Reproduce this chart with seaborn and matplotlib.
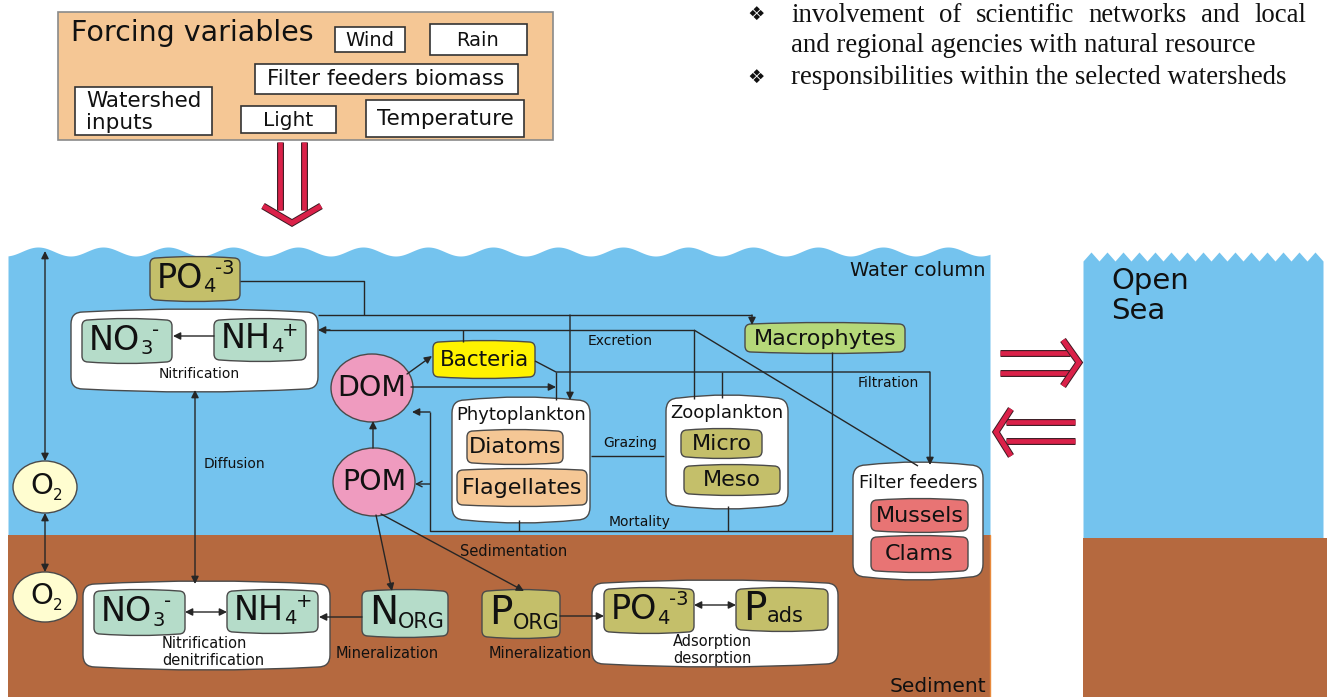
import numpy as np
import matplotlib
matplotlib.use("Agg")
import matplotlib.pyplot as plt
import matplotlib.patheffects as pe
from matplotlib.patches import Ellipse, Rectangle, PathPatch
from matplotlib.path import Path
import seaborn as sns

sns.set_style("white")
plt.rcParams["font.family"] = ["DejaVu Sans"]
plt.rcParams["text.color"] = "#111111"

# ---------------- text content ----------------
bullet_lines = ["involvement of scientific networks and local",
                "and regional agencies with natural resource",
                "responsibilities within the selected watersheds"]
forcing_title = "Forcing variables"
forcing_vars = ["Wind", "Rain", "Filter feeders biomass", "Watershed\ninputs", "Light", "Temperature"]
zone_labels = ["Water column", "Sediment", "Open\nSea"]
organic_pools = ["DOM", "POM"]
water_nodes = ["Bacteria", "Macrophytes"]
group_titles = ["Phytoplankton", "Zooplankton", "Filter feeders"]
group_members = [["Diatoms", "Flagellates"], ["Micro", "Meso"], ["Mussels", "Clams"]]
process_labels = ["Excretion", "Filtration", "Grazing", "Mortality", "Sedimentation", "Diffusion", "Nitrification"]
sediment_labels = ["Nitrification\ndenitrification", "Mineralization", "Mineralization", "Adsorption\ndesorption"]
# chemical species: (symbol, subscript, superscript)
nutrients_water = [("PO", "4", "-3"), ("NO", "3", "-"), ("NH", "4", "+")]
nutrients_sed = [("NO", "3", "-"), ("NH", "4", "+"), ("N", "ORG", ""), ("P", "ORG", ""), ("PO", "4", "-3"), ("P", "ads", "")]

# ---------------- layout (pixel coords, y down) ----------------
forcing_box_pos = [(335, 27, 405, 52), (430, 24, 527, 55), (255, 64, 518, 94),
                   (75, 87, 212, 135), (241, 106, 336, 133), (366, 100, 524, 137)]
forcing_text_pos = [(370, 41, "center"), (478, 40, "center"), (386, 79, "center"),
                    (86, 112, "left"), (288, 120, "center"), (445, 119, "center")]
forcing_text_size = [14, 14, 15.5, 15.5, 14.5, 15.5]
water_nut_box = [(150, 258, 240, 300), (82, 320, 172, 362), (214, 320, 306, 360)]
sed_nut_box = [(94, 591, 185, 634), (227, 591, 318, 632), (362, 591, 448, 636),
               (482, 591, 560, 637), (604, 589, 694, 632), (736, 589, 828, 630)]
group_box = [(452, 400, 590, 520), (666, 398, 788, 506), (853, 465, 983, 577)]
member_box = [[(467, 431, 563, 463), (457, 470, 587, 505)],
              [(681, 430, 762, 457), (684, 466, 780, 494)],
              [(871, 500, 968, 531), (871, 537, 968, 571)]]
title_y = [415, 413, 483]
process_pos = [(620, 341), (888, 383), (630, 443), (640, 522), (514, 552), (234, 464), (199, 374)]
sed_label_pos = [(162, 652, "left"), (387, 653, "center"), (540, 653, "center"), (712, 650, "center")]

blue, brown = "#74C3EE", "#B5693F"
peach, olive, mint = "#F5C795", "#C4BF6A", "#B5DCC9"
red = "#DA2149"
line_c = "#262626"
edge_c = "#4a4a4a"

fig = plt.figure(figsize=(13.3, 6.97), dpi=100)
ax = fig.add_axes([0, 0, 1, 1])
ax.set_xlim(0, 1330)
ax.set_ylim(697, 0)
ax.axis("off")
renderer = fig.canvas.get_renderer()


def rbox(b, fc, r=6, bulge=1.5, ec=edge_c, lw=1.0, z=2):
    # rounded box whose top and bottom edges bow outwards a little
    x0, y0, x1, y1 = b
    xm = (x0 + x1) / 2
    verts = [(x0 + r, y0), (xm, y0 - 2 * bulge), (x1 - r, y0), (x1, y0), (x1, y0 + r),
             (x1, y1 - r), (x1, y1), (x1 - r, y1), (xm, y1 + 2 * bulge), (x0 + r, y1),
             (x0, y1), (x0, y1 - r), (x0, y0 + r), (x0, y0), (x0 + r, y0), (x0 + r, y0)]
    C3 = Path.CURVE3
    codes = [Path.MOVETO, C3, C3, C3, C3, Path.LINETO, C3, C3, C3, C3, C3, C3,
             Path.LINETO, C3, C3, Path.CLOSEPOLY]
    ax.add_patch(PathPatch(Path(verts, codes), fc=fc, ec=ec, lw=lw, zorder=z))


def chem(b, main, sub, sup, size=24, small=14, dx=7):
    x0, y0, x1, y1 = b
    t = ax.text(x0 + dx, (y0 + y1) / 2 - 1, main, fontsize=size, ha="left", va="center", zorder=5)
    xe = t.get_window_extent(renderer).x1
    if sub:
        s = ax.text(xe, y1 - 4, sub, fontsize=small, ha="left", va="bottom", zorder=5)
        xe = s.get_window_extent(renderer).x1 - 1
    if sup:
        ax.text(xe, y0 + 1, sup, fontsize=small, ha="left", va="top", zorder=5)


def seg(xs, ys, lw=1.0):
    ax.plot(xs, ys, color=line_c, lw=lw, zorder=3, solid_capstyle="butt")


def arrow(p0, p1, style="-|>", ms=11):
    ax.annotate("", xy=p1, xytext=p0,
                arrowprops=dict(arrowstyle=style, color=line_c, lw=1.0,
                                mutation_scale=ms, shrinkA=0, shrinkB=0), zorder=4)


def red_arrow(shafts, head):
    eff = [pe.Stroke(linewidth=5.0, foreground="#3b1a22"), pe.Normal()]
    for xs, ys in shafts:
        ax.plot(xs, ys, color=red, lw=3.4, solid_capstyle="butt", path_effects=eff, zorder=4)
    ax.plot(head[0], head[1], color=red, lw=3.6, solid_joinstyle="miter",
            solid_capstyle="butt", path_effects=eff, zorder=4)


# ---------------- forcing variables ----------------
ax.add_patch(Rectangle((58, 12), 495, 128, fc=peach, ec="#8a8a8a", lw=1.2, zorder=1))
ax.text(71, 33, forcing_title, fontsize=20.5, ha="left", va="center")
for b, (tx, ty, ha), lab, fs in zip(forcing_box_pos, forcing_text_pos, forcing_vars, forcing_text_size):
    ax.add_patch(Rectangle((b[0], b[1]), b[2] - b[0], b[3] - b[1], fc="white", ec="#333", lw=1.2, zorder=2))
    ax.text(tx, ty, lab, fontsize=fs, ha=ha, va="center", linespacing=1.1, zorder=3)

red_arrow([([280, 280], [142, 210]), ([304, 304], [142, 210])],
          ([263, 292, 321], [206, 223, 206]))

# ---------------- bullet text ----------------
serif = ["Liberation Serif", "DejaVu Serif"]
bsize = 19.3


def justify(line, x0, x1, y):
    ts = [ax.text(0, y, w, fontsize=bsize, family=serif, va="center", ha="left") for w in line.split()]
    ws = [t.get_window_extent(renderer).width for t in ts]
    gap = (x1 - x0 - sum(ws)) / (len(ts) - 1)
    x = x0
    for t, w in zip(ts, ws):
        t.set_x(x)
        x += w + gap


justify(bullet_lines[0], 791, 1306, 15)
ax.text(791, 46, bullet_lines[1], fontsize=bsize, family=serif, va="center", ha="left")
ax.text(791, 77, bullet_lines[2], fontsize=bsize, family=serif, va="center", ha="left")
for by in (14, 77):
    ax.text(756, by, "\u2756", fontsize=14, ha="center", va="center", family=["DejaVu Sans"])

# ---------------- backgrounds ----------------
xw = np.linspace(8, 990, 800)
ax.fill_between(xw, 251.5 - 4.5 * np.cos(2 * np.pi * (xw - 38) / 65), 536, color=blue, lw=0, zorder=0)
ax.add_patch(Rectangle((8, 535), 982, 162, fc=brown, ec="none", zorder=0))
ax.plot([990, 990], [535, 697], color="#E88A3C", lw=1, zorder=0)
xs = np.arange(1083, 1328, 8)
ys = np.where((np.arange(len(xs)) % 2) == 0, 261, 252)
ax.fill_between(xs, ys, 539, color=blue, lw=0, zorder=0)
ax.add_patch(Rectangle((1083, 538), 244, 159, fc=brown, ec="none", zorder=0))

ax.text(986, 270, zone_labels[0], fontsize=14, ha="right", va="center")
ax.text(986, 686, zone_labels[1], fontsize=14.5, ha="right", va="center")
ax.text(1111, 296, zone_labels[2], fontsize=21, ha="left", va="center", linespacing=1.05)

red_arrow([([1000, 1070], [353, 353]), ([1000, 1070], [373, 373])],
          ([1063, 1079, 1063], [340, 362.5, 386]))
red_arrow([([1006, 1075], [422, 422]), ([1006, 1075], [441, 441])],
          ([1011, 996, 1011], [409, 432, 456]))

# ---------------- nodes ----------------
rbox((71, 312, 318, 389), "white", r=12, bulge=3)
rbox((83, 584, 330, 667), "white", r=12, bulge=3)
rbox((592, 583, 838, 664), "white", r=12, bulge=3)
for b, (m, s, p) in zip(water_nut_box, nutrients_water):
    rbox(b, olive if m == "PO" else mint)
    chem(b, m, s, p)
for b, (m, s, p) in zip(sed_nut_box, nutrients_sed):
    rbox(b, olive if m.startswith("P") else mint)
    chem(b, m, s, p, size=24 if len(m) > 1 else 28, small=14 if s in "34" else 15)

ax.add_patch(Ellipse((45, 487), 64, 52, fc="#FFFDD0", ec=edge_c, lw=1, zorder=2))
ax.add_patch(Ellipse((45, 597), 64, 50, fc="#FFFDD0", ec=edge_c, lw=1, zorder=2))
for oy in (487, 597):
    ax.text(42, oy - 1, "O", fontsize=21, ha="center", va="center", zorder=5)
    ax.text(58, oy + 9, "2", fontsize=11, ha="center", va="center", zorder=5)

for (cx, cy), lab in zip([(372, 388), (374, 482)], organic_pools):
    ax.add_patch(Ellipse((cx, cy), 82, 68, fc="#EF9BBF", ec=edge_c, lw=1, zorder=2))
    ax.text(cx, cy, lab, fontsize=20.5, ha="center", va="center", zorder=5)

rbox((433, 342, 535, 377), "#FFF200")
ax.text(484, 360, water_nodes[0], fontsize=15.5, ha="center", va="center", zorder=5)
rbox((745, 324, 905, 352), "#B5D879")
ax.text(825, 339, water_nodes[1], fontsize=16, ha="center", va="center", zorder=5)

member_colors = [peach, olive, "#E87474"]
for gb, ty, title, mbs, mem, mc in zip(group_box, title_y, group_titles, member_box, group_members, member_colors):
    rbox(gb, "white", r=13, bulge=3)
    ax.text((gb[0] + gb[2]) / 2, ty, title, fontsize=13, ha="center", va="center", zorder=5)
    for b, lab in zip(mbs, mem):
        rbox(b, mc)
        ax.text((b[0] + b[2]) / 2, (b[1] + b[3]) / 2, lab, fontsize=16, ha="center", va="center", zorder=5)

for (px, py), lab in zip(process_pos, process_labels):
    ax.text(px, py, lab, fontsize=10.5 if lab == "Sedimentation" else 10, ha="center", va="center", zorder=5)
for (px, py, ha), lab in zip(sed_label_pos, sediment_labels):
    ax.text(px, py, lab, fontsize=10.5, ha=ha, va="center", linespacing=1.2, zorder=5)

# ---------------- connectors ----------------
seg([240, 364, 364], [281, 281, 315])
seg([318, 752], [315, 315])
arrow((752, 315), (752, 325))
arrow((570, 315), (570, 400))
seg([694, 322], [330, 330])
arrow((330, 330), (318, 330))
seg([694, 918], [330, 466])
seg([694, 694], [330, 399])
seg([463, 463], [330, 342])
seg([535, 556, 930], [361, 372, 372])
arrow((930, 372), (930, 465))
seg([556, 556], [372, 400])
seg([722, 722], [372, 398])
arrow((411, 387), (556, 387))
arrow((407, 374), (432, 356))
arrow((373, 448), (373, 421))
seg([832, 832, 430, 430], [352, 531, 531, 412])
arrow((430, 412), (412, 412))
arrow((430, 484), (415, 484), style="->", ms=10)
seg([519, 519], [520, 531])
seg([728, 728], [506, 531])
seg([591, 664], [456, 456])
arrow((214, 336), (173, 336))
arrow((45, 251), (45, 461), style="<|-|>")
arrow((45, 513), (45, 572), style="<|-|>")
arrow((195, 390), (195, 584), style="<|-|>")
arrow((376, 515), (392, 591))
arrow((381, 514), (524, 591))
arrow((362, 617), (319, 617))
arrow((185, 612), (227, 612), style="<|-|>")
arrow((560, 616), (604, 616))
arrow((694, 605), (736, 605), style="<|-|>")

fig.savefig("out.png", dpi=100)
